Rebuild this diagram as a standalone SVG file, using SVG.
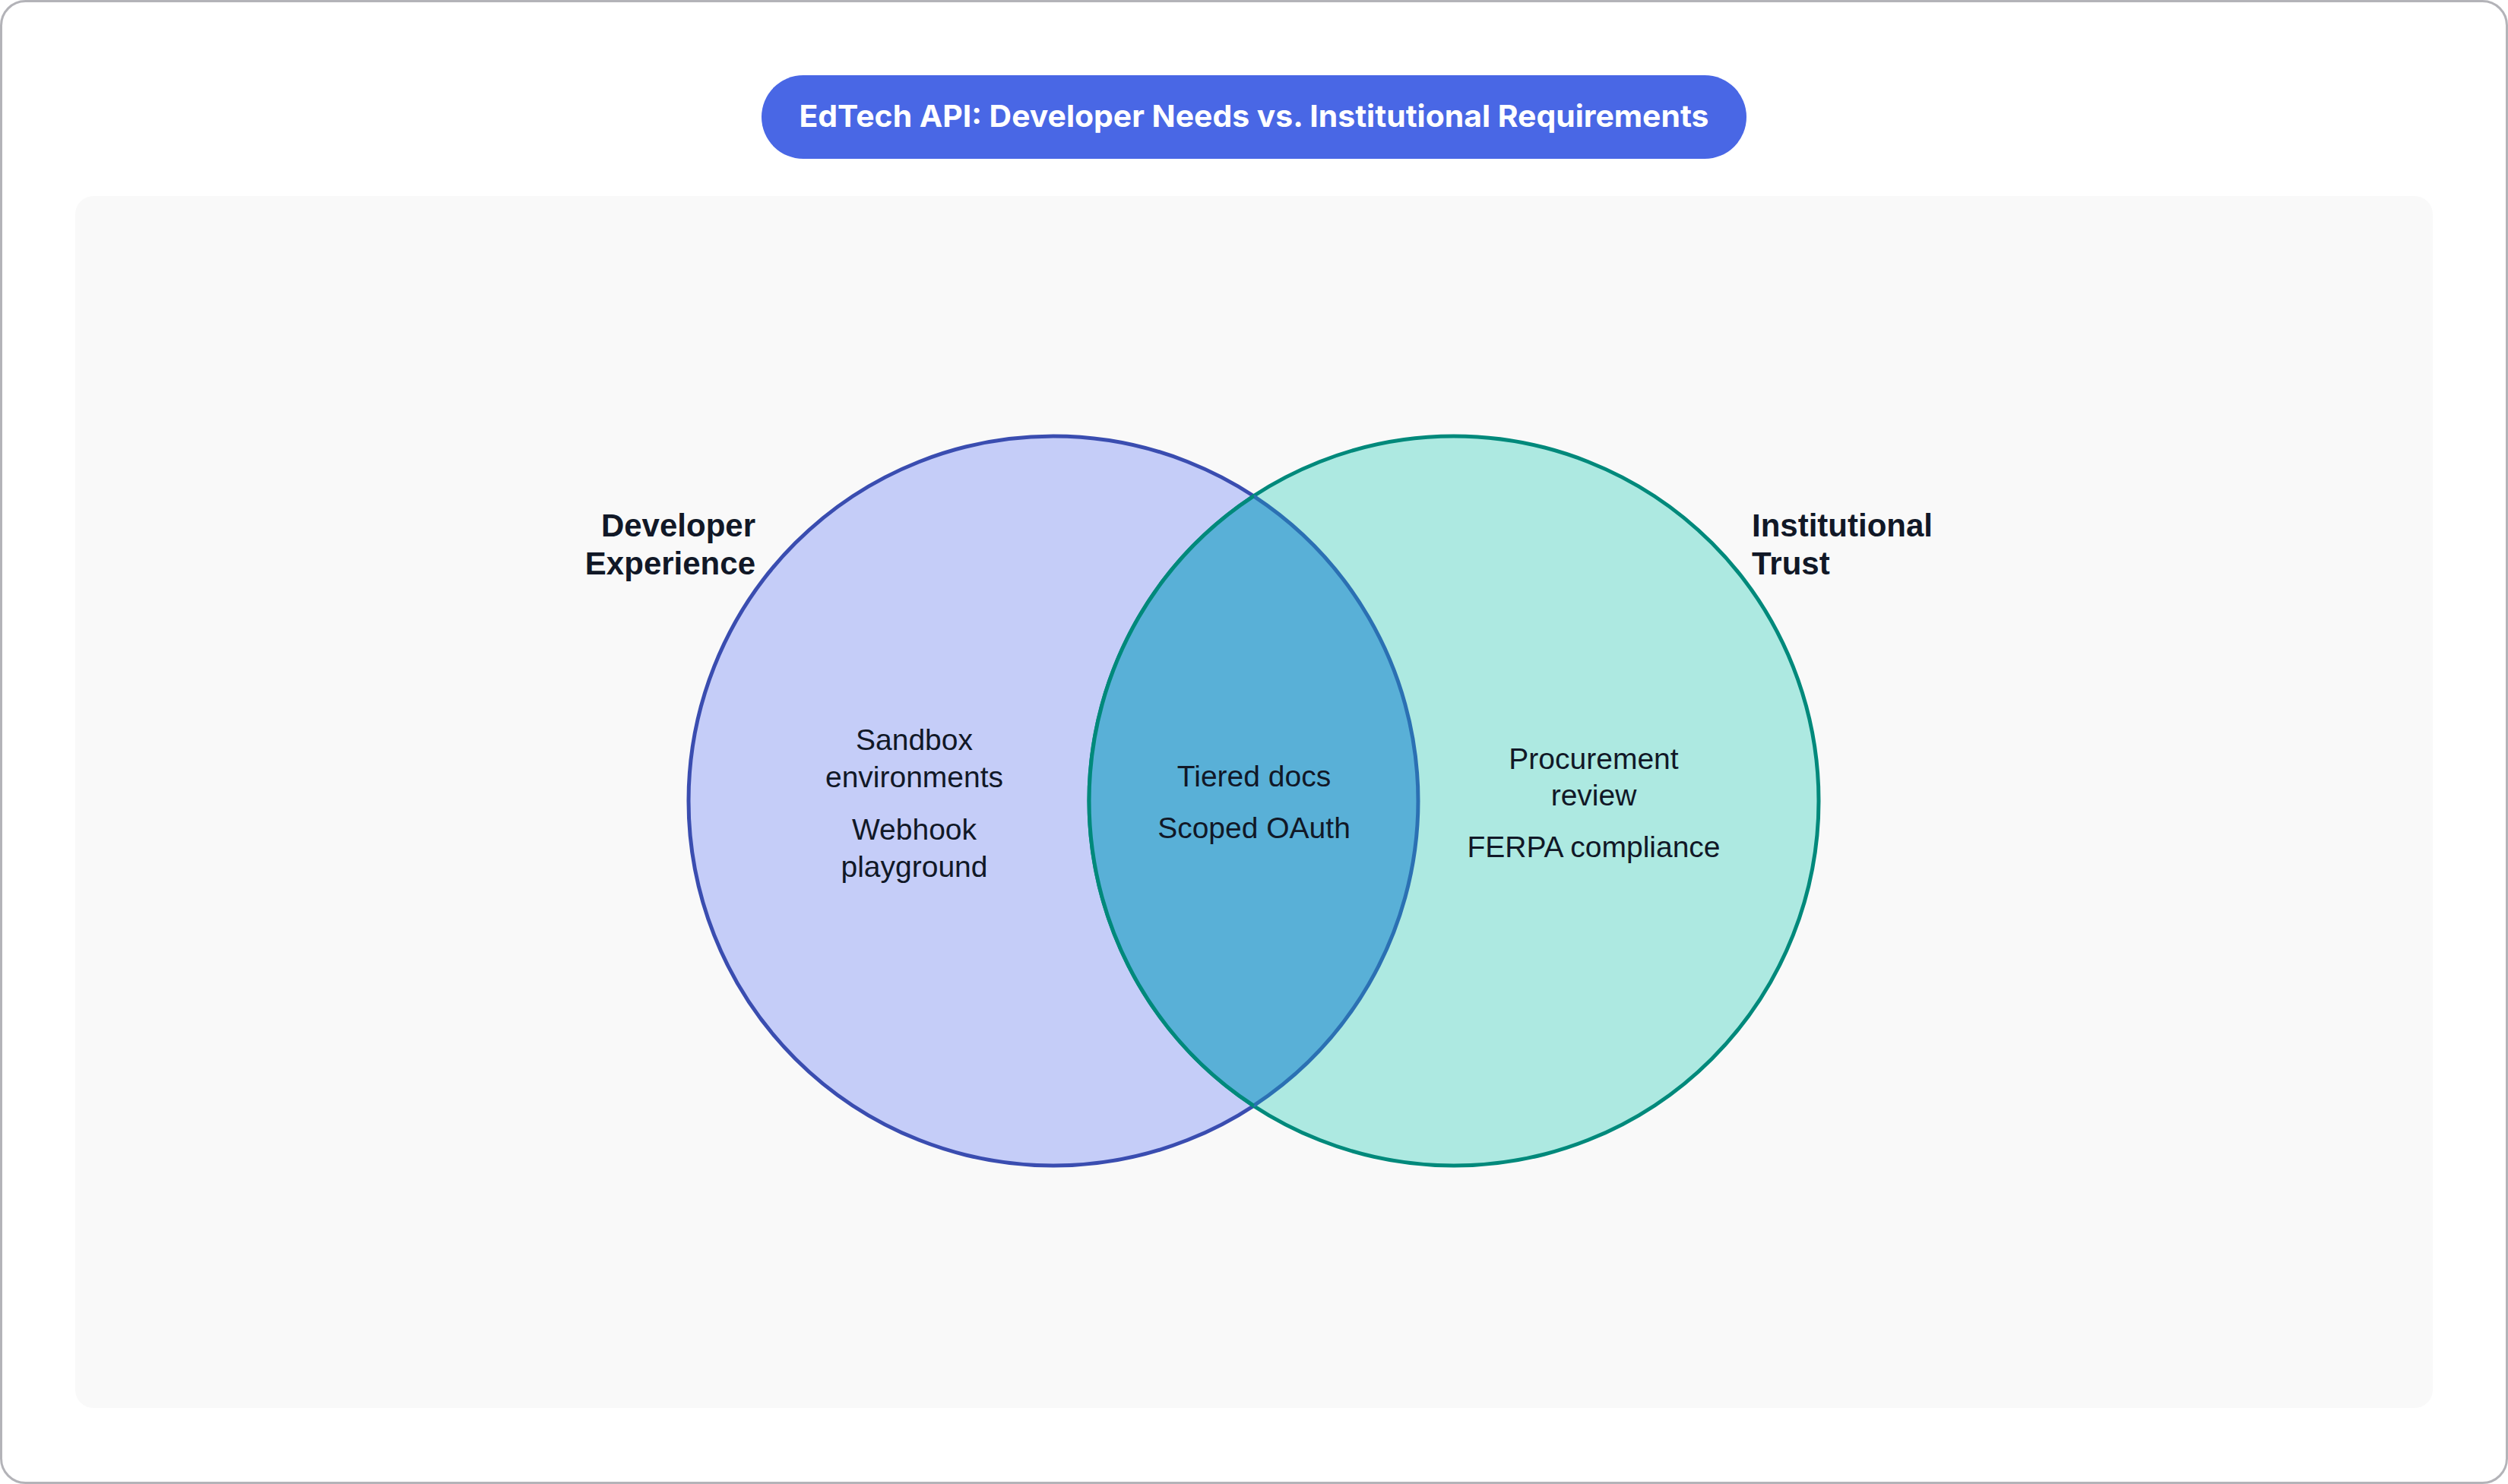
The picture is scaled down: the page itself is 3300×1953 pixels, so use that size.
<svg xmlns="http://www.w3.org/2000/svg" width="3300" height="1953" viewBox="0 0 3300 1953">
  <style>
    .title { font-family: Inter, "Noto Sans", "Liberation Sans", sans-serif; font-weight: 700; font-size: 40px; fill: #ffffff; }
    .setlabel { font-family: "Liberation Sans", Arial, sans-serif; font-weight: 700; font-size: 42px; fill: #111827; }
    .item { font-family: "Liberation Sans", Arial, sans-serif; font-size: 39px; fill: #111827; text-anchor: middle; }
  </style>
  <rect x="1.5" y="1.5" width="3297" height="1950" rx="32" fill="#ffffff" stroke="#b3b3b8" stroke-width="3"/>
  <rect x="99" y="258" width="3102" height="1595" rx="24" fill="#f9f9f9"/>
  <g id="title">
    <rect x="1002" y="99" width="1296" height="110" rx="55" fill="#4967e5"/>
    <text class="title" x="1650" y="167" text-anchor="middle" textLength="1197" lengthAdjust="spacingAndGlyphs">EdTech API: Developer Needs vs. Institutional Requirements</text>
  </g>
  <g id="set-developer">
    <circle cx="1386" cy="1054" r="480" fill="#c5cdf8" stroke="#3a4db0" stroke-width="5"/>
  </g>
  <g id="set-institutional">
    <circle cx="1913" cy="1054" r="480" fill="#ade9e1" stroke="#00897b" stroke-width="5"/>
  </g>
  <g id="overlap">
    <path d="M1649.5,652.8 A480,480 0 0,1 1649.5,1455.2 A480,480 0 0,1 1649.5,652.8 Z" fill="#59b0d7"/>
    <path d="M1649.5,652.8 A480,480 0 0,1 1649.5,1455.2" fill="none" stroke="#2b70b3" stroke-width="5"/>
    <path d="M1649.5,1455.2 A480,480 0 0,1 1649.5,652.8" fill="none" stroke="#00897b" stroke-width="5"/>
  </g>
  <g id="label-developer">
    <text class="setlabel" x="994" y="706" text-anchor="end">Developer</text>
    <text class="setlabel" x="994" y="756" text-anchor="end">Experience</text>
  </g>
  <g id="label-institutional">
    <text class="setlabel" x="2305" y="706">Institutional</text>
    <text class="setlabel" x="2305" y="756">Trust</text>
  </g>
  <g id="items-developer">
    <text class="item" x="1203" y="987">Sandbox</text>
    <text class="item" x="1203" y="1036">environments</text>
    <text class="item" x="1203" y="1105">Webhook</text>
    <text class="item" x="1203" y="1154">playground</text>
  </g>
  <g id="items-overlap">
    <text class="item" x="1650" y="1035">Tiered docs</text>
    <text class="item" x="1650" y="1103">Scoped OAuth</text>
  </g>
  <g id="items-institutional">
    <text class="item" x="2097" y="1012">Procurement</text>
    <text class="item" x="2097" y="1060">review</text>
    <text class="item" x="2097" y="1128">FERPA compliance</text>
  </g>
  <g id="connectors"></g>
</svg>
